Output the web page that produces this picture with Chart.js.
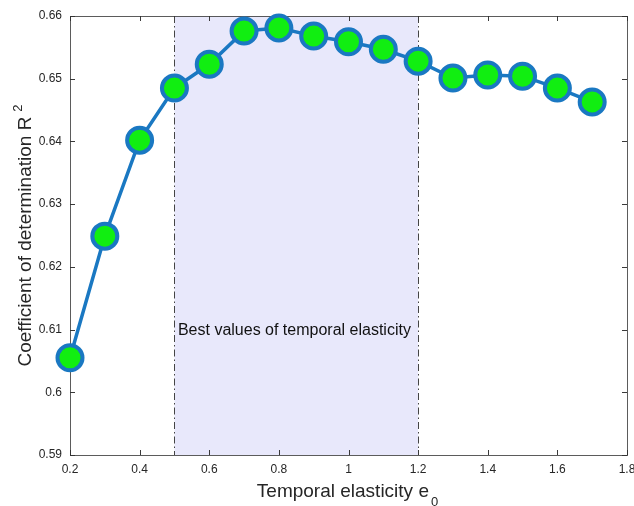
<!DOCTYPE html>
<html>
<head>
<meta charset="utf-8">
<script src="https://cdn.jsdelivr.net/npm/chart.js@4/dist/chart.umd.min.js"></script>
<style>
html,body{margin:0;padding:0;background:#fff;}
#c{display:block;}
</style>
</head>
<body>
<canvas id="c" width="634" height="506"></canvas>
<script>
// ---- data ----
const elasticity = [0.2, 0.3, 0.4, 0.5, 0.6, 0.7, 0.8, 0.9, 1.0, 1.1, 1.2, 1.3, 1.4, 1.5, 1.6, 1.7];
const r2Values   = [0.6055, 0.6249, 0.6402, 0.6485, 0.6523, 0.6576, 0.6581, 0.6568, 0.6559, 0.6547, 0.6528, 0.6501, 0.6506, 0.6504, 0.6485, 0.6463];
const xTicks = [0.2, 0.4, 0.6, 0.8, 1.0, 1.2, 1.4, 1.6, 1.8];
const yTicks = [0.59, 0.60, 0.61, 0.62, 0.63, 0.64, 0.65, 0.66];
const bestRange = [0.5, 1.2];
const annotationText = 'Best values of temporal elasticity';
const annotationAt = [0.51, 0.6098];
const xTitle = ['Temporal elasticity e', '0'];
const yTitle = ['Coefficient of determination R', '2'];

const FONT = '"Liberation Sans", Arial, Helvetica, sans-serif';
const AX = '#262626';

const fmt = v => String(+(+v).toFixed(2));

const decor = {
  id: 'decor',
  beforeDatasetsDraw(chart) {
    const {ctx, chartArea: a, scales: {x, y}} = chart;
    ctx.save();
    const x0 = x.getPixelForValue(bestRange[0]);
    const x1 = x.getPixelForValue(bestRange[1]);
    ctx.fillStyle = 'rgb(232,232,251)';
    ctx.fillRect(x0, a.top, x1 - x0, a.bottom - a.top);
    ctx.strokeStyle = '#444';
    ctx.lineWidth = 1;
    ctx.setLineDash([7, 3, 1.5, 3]);
    [x0, x1].forEach(px => {
      ctx.beginPath();
      ctx.moveTo(Math.round(px) + 0.5, a.top);
      ctx.lineTo(Math.round(px) + 0.5, a.bottom);
      ctx.stroke();
    });
    ctx.setLineDash([]);
    ctx.fillStyle = '#111';
    ctx.font = '16px ' + FONT;
    ctx.textAlign = 'left';
    ctx.textBaseline = 'middle';
    ctx.fillText(annotationText, x.getPixelForValue(annotationAt[0]), y.getPixelForValue(annotationAt[1]));
    ctx.strokeStyle = '#3a3a3a';
    ctx.lineWidth = 1;
    const tl = 5;
    xTicks.forEach(v => {
      const px = Math.round(x.getPixelForValue(v)) + 0.5;
      ctx.beginPath();
      ctx.moveTo(px, a.bottom); ctx.lineTo(px, a.bottom - tl);
      ctx.moveTo(px, a.top); ctx.lineTo(px, a.top + tl);
      ctx.stroke();
    });
    yTicks.forEach(v => {
      const py = Math.round(y.getPixelForValue(v)) + 0.5;
      ctx.beginPath();
      ctx.moveTo(a.left, py); ctx.lineTo(a.left + tl, py);
      ctx.moveTo(a.right, py); ctx.lineTo(a.right - tl, py);
      ctx.stroke();
    });
    ctx.strokeStyle = 'rgba(50,50,50,0.8)';
    ctx.strokeRect(Math.round(a.left) + 0.5, Math.round(a.top) + 0.5,
                   Math.round(a.right - a.left), Math.round(a.bottom - a.top));
    ctx.restore();
  },
  afterDraw(chart) {
    const {ctx, chartArea: a} = chart;
    ctx.save();
    ctx.fillStyle = AX;
    ctx.textBaseline = 'alphabetic';
    ctx.font = '19px ' + FONT;
    const mainW = ctx.measureText(xTitle[0]).width;
    ctx.font = '13px ' + FONT;
    const subW = ctx.measureText(xTitle[1]).width;
    const gap = 2;
    const total = mainW + gap + subW;
    const cx = (a.left + a.right) / 2;
    let sx = cx - total / 2 - 1;
    ctx.textAlign = 'left';
    ctx.font = '19px ' + FONT;
    ctx.fillText(xTitle[0], sx, 497);
    ctx.font = '13px ' + FONT;
    ctx.fillText(xTitle[1], sx + mainW + gap, 506);
    ctx.translate(31, (a.top + a.bottom) / 2);
    ctx.rotate(-Math.PI / 2);
    ctx.font = '19px ' + FONT;
    const yMainW = ctx.measureText(yTitle[0]).width;
    ctx.font = '13px ' + FONT;
    const ySupW = ctx.measureText(yTitle[1]).width;
    const ygap = 5;
    const yTotal = yMainW + ygap + ySupW;
    let sy = -yTotal / 2;
    ctx.font = '19px ' + FONT;
    ctx.fillText(yTitle[0], sy, 0);
    ctx.font = '13px ' + FONT;
    ctx.fillText(yTitle[1], sy + yMainW + ygap, -9);
    ctx.restore();
  }
};

new Chart(document.getElementById('c'), {
  type: 'line',
  data: {
    datasets: [{
      data: elasticity.map((e, i) => ({x: e, y: r2Values[i]})),
      borderColor: '#1a78c2',
      borderWidth: 3.5,
      backgroundColor: '#11ee11',
      pointBackgroundColor: '#11ee11',
      pointBorderColor: '#1a78c2',
      pointBorderWidth: 4,
      pointRadius: 12.5,
      pointHoverRadius: 12.5,
      tension: 0,
      clip: false
    }]
  },
  options: {
    responsive: false,
    devicePixelRatio: 1,
    animation: false,
    events: [],
    layout: {autoPadding: false, padding: {left: 0, right: 7, top: 16, bottom: 0}},
    plugins: {legend: {display: false}, tooltip: {enabled: false}},
    scales: {
      x: {
        type: 'linear',
        min: xTicks[0],
        max: xTicks[xTicks.length - 1],
        afterBuildTicks: s => { s.ticks = xTicks.map(v => ({value: v})); },
        afterFit: s => { s.height = 51; s.paddingRight = 0; s.paddingLeft = 0; },
        grid: {display: false, drawTicks: false},
        border: {display: false},
        ticks: {
          callback: v => fmt(v),
          color: AX,
          padding: 7,
          maxRotation: 0,
          autoSkip: false,
          font: {family: FONT, size: 12}
        }
      },
      y: {
        type: 'linear',
        min: yTicks[0],
        max: yTicks[yTicks.length - 1],
        afterBuildTicks: s => { s.ticks = yTicks.map(v => ({value: v})); },
        afterFit: s => { s.width = 70; },
        grid: {display: false, drawTicks: false},
        border: {display: false},
        ticks: {
          callback: v => fmt(v),
          color: AX,
          padding: 8,
          autoSkip: false,
          font: {family: FONT, size: 12}
        }
      }
    }
  },
  plugins: [decor]
});
</script>
</body>
</html>
